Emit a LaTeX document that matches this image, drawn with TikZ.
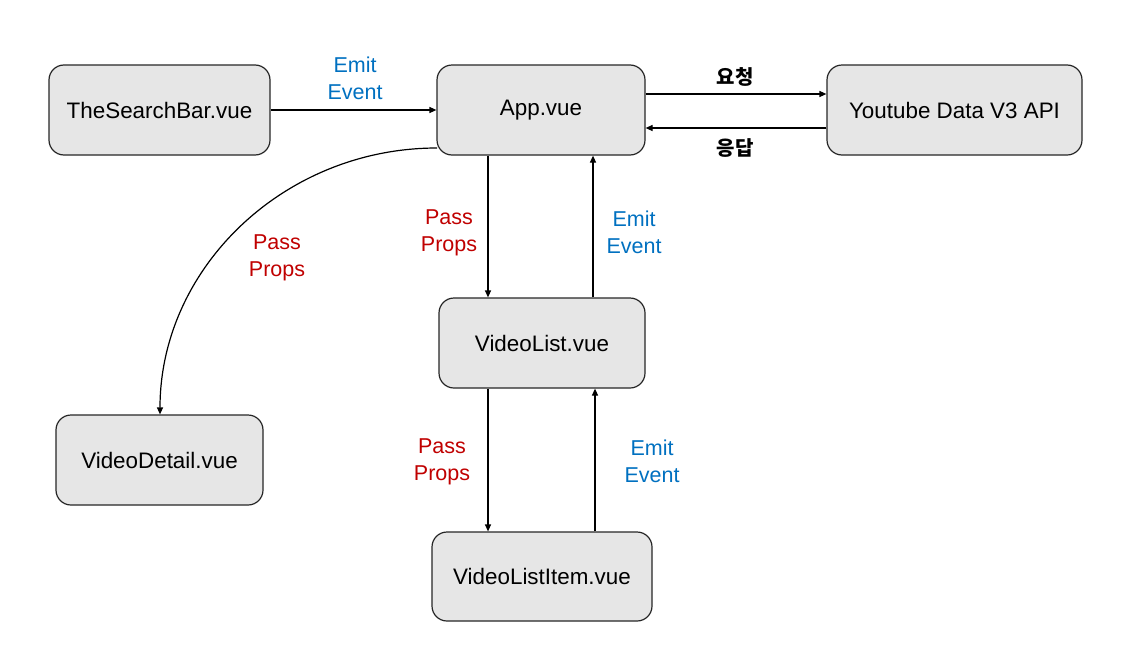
\documentclass[tikz,border=0pt]{standalone}
\usepackage{fontspec}
\setmainfont{Liberation Sans}
\newfontfamily\kr{Noto Sans CJK KR}
\usetikzlibrary{arrows.meta}
\definecolor{boxfill}{HTML}{E6E6E6}
\definecolor{emitblue}{HTML}{0070C0}
\definecolor{passred}{HTML}{C00000}
\tikzset{
  comp/.style={draw=black!85, line width=1.2pt, fill=boxfill, rounded corners=15pt,
    minimum height=90pt, inner sep=0pt, font=\fontsize{22.4}{27}\selectfont},
  conn/.style={line width=1.2pt, -{Triangle[length=7pt,width=6pt]}},
  lbl/.style={align=center, font=\fontsize{21.5}{27}\selectfont, inner sep=0pt},
  emit/.style={lbl, text=emitblue},
  pass/.style={lbl, text=passred},
  krl/.style={inner sep=0pt, font=\kr\bfseries\fontsize{20}{26}\selectfont}
}
\begin{document}
\begin{tikzpicture}[x=1pt,y=-1pt]
\useasboundingbox (0,0) rectangle (1137,656);
\node[comp, minimum width=221pt] (search) at (159.5,110) {TheSearchBar.vue};
\node[comp, minimum width=208pt] (app) at (541,110) {App.vue};
\node[comp, minimum width=255pt] (yt) at (954.5,110) {Youtube Data V3 API};
\node[comp, minimum width=206pt] (vlist) at (542,343) {VideoList.vue};
\node[comp, minimum width=207pt] (vdetail) at (159.5,460) {VideoDetail.vue};
\node[comp, minimum width=220pt, minimum height=89pt] (vitem) at (542,576.5) {VideoListItem.vue};

% Search -> App
\draw[conn] (search.east) -- (app.west);
\node[emit] at (355,78.5) {Emit\\Event};

% App <-> Youtube
\draw[conn] (app.east |- 0,94) -- (yt.west |- 0,94);
\draw[conn] (yt.west |- 0,128) -- (app.east |- 0,128);
\node[krl] at (735,77) {요청};
\node[krl] at (735,148) {응답};

% App <-> VideoList
\draw[conn] (app.south -| 488,0) -- (vlist.north -| 488,0);
\draw[conn] (vlist.north -| 593,0) -- (app.south -| 593,0);
\node[pass] at (449,232.5) {Pass\\Props};
\node[emit] at (634,232.5) {Emit\\Event};

% VideoList <-> VideoListItem
\draw[conn] (vlist.south -| 488,0) -- (vitem.north -| 488,0);
\draw[conn] (vitem.north -| 595,0) -- (vlist.south -| 595,0);
\node[pass] at (442,461.5) {Pass\\Props};
\node[emit] at (652,461.5) {Emit\\Event};

% App -> VideoDetail curve
\coordinate (cstart) at (437,148);
\draw[conn] (cstart) .. controls (284,148) and (160,268) .. (vdetail.north -| 160,0);
\node[pass] at (277,257.5) {Pass\\Props};
\end{tikzpicture}
\end{document}
